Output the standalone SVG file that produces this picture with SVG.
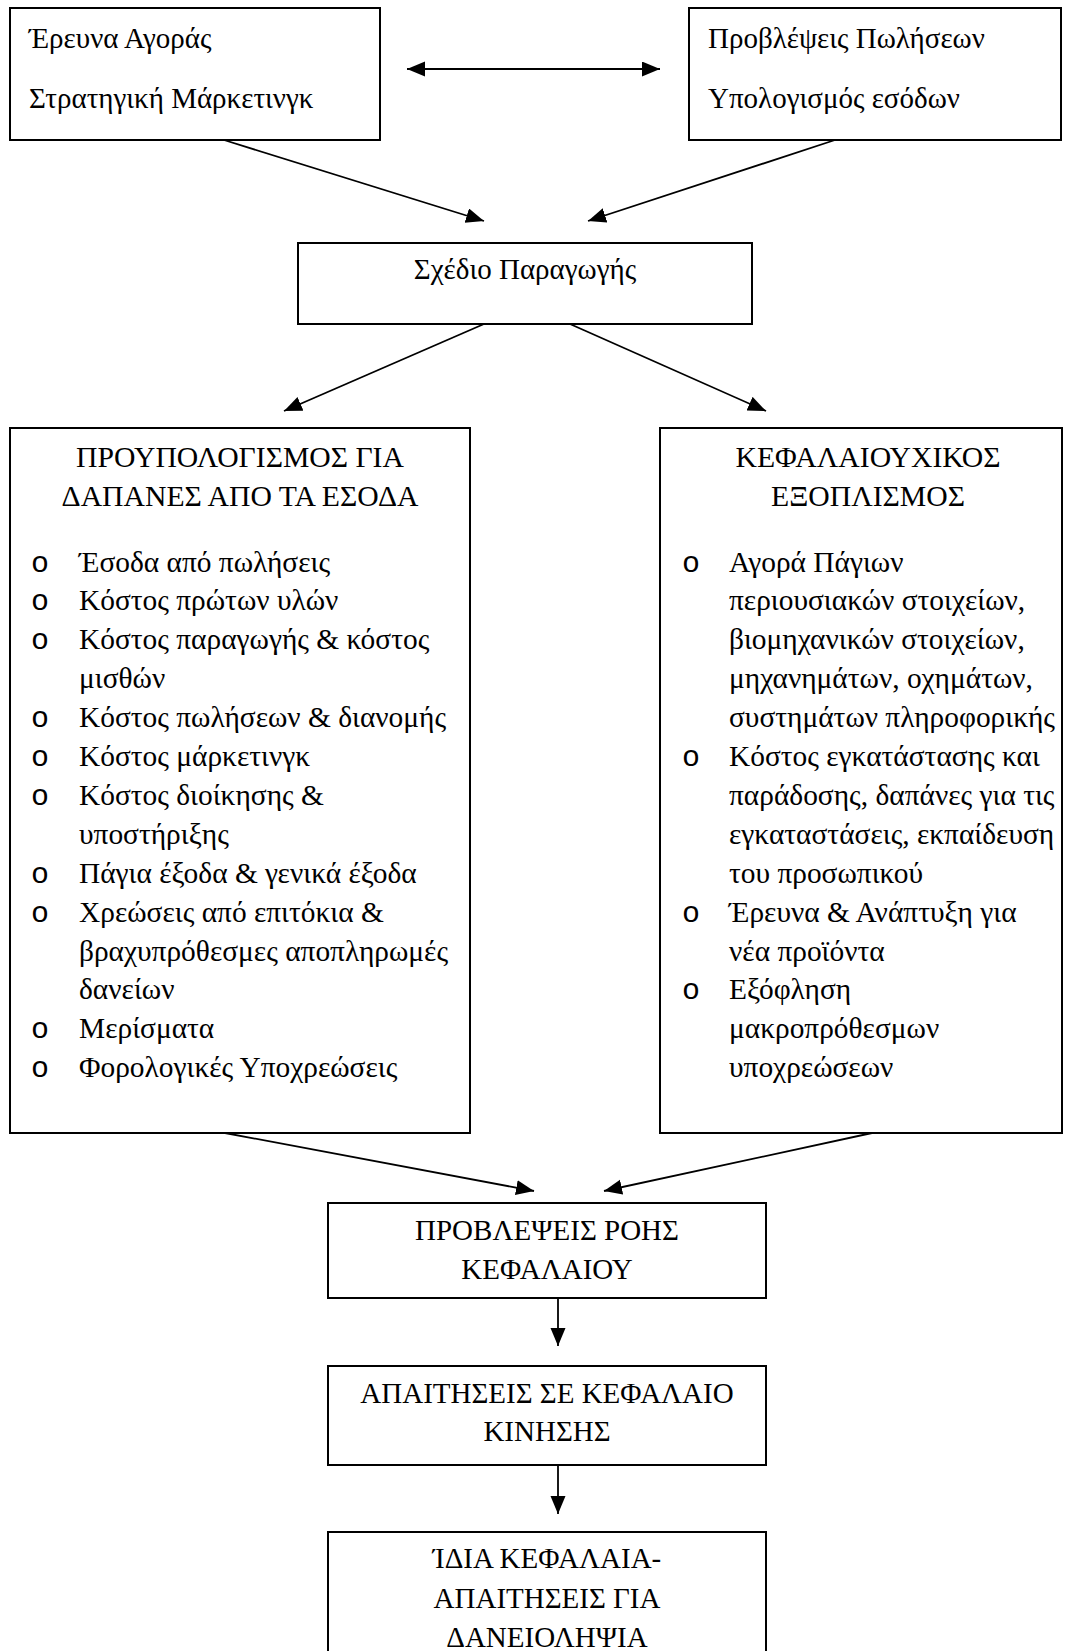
<svg xmlns="http://www.w3.org/2000/svg" width="1067" height="1651" viewBox="0 0 1067 1651">
<defs>
<marker id="ah" markerUnits="userSpaceOnUse" markerWidth="20" markerHeight="16" refX="18" refY="7.5" orient="auto-start-reverse">
<path d="M0,0 L18,7.5 L0,15 z" fill="#000"/>
</marker>
<style>
.box{fill:#fff;stroke:#000;stroke-width:2}
.t{font-family:"Liberation Serif","Times New Roman",serif;fill:#000}
.s24{font-size:29px}
.h{font-size:29.7px}
.s28{font-size:29.4px}
.s29{font-size:29px}
.b{font-family:"Liberation Mono","Courier New",monospace;font-size:30px;fill:#000}
.c{text-anchor:middle}
.ln{stroke:#000;stroke-width:1.8;fill:none;marker-end:url(#ah)}
</style>
</defs>
<rect width="1067" height="1651" fill="#fff"/>
<g id="connectors">
<line class="ln" x1="407" y1="69" x2="660" y2="69" style="marker-start:url(#ah)"/>
<line class="ln" x1="224" y1="140" x2="484" y2="221"/>
<line class="ln" x1="835" y1="140" x2="588" y2="221"/>
<line class="ln" x1="484" y1="324" x2="284" y2="411"/>
<line class="ln" x1="570" y1="324" x2="766" y2="411"/>
<line class="ln" x1="225" y1="1133" x2="534" y2="1191"/>
<line class="ln" x1="872" y1="1133" x2="604" y2="1191"/>
<line class="ln" x1="558" y1="1298" x2="558" y2="1346"/>
<line class="ln" x1="558" y1="1465" x2="558" y2="1514"/>
</g>
<g id="n1">
<rect class="box" x="10" y="8" width="370" height="132"/>
<text class="t s24" x="29" y="48">Έρευνα Αγοράς</text>
<text class="t s24" x="29" y="108">Στρατηγική Μάρκετινγκ</text>
</g>
<g id="n2">
<rect class="box" x="689" y="8" width="372" height="132"/>
<text class="t s24" x="708" y="48">Προβλέψεις Πωλήσεων</text>
<text class="t s24" x="708" y="108">Υπολογισμός εσόδων</text>
</g>
<g id="n3">
<rect class="box" x="298" y="243" width="454" height="81"/>
<text class="t s24 c" x="525" y="279">Σχέδιο Παραγωγής</text>
</g>
<g id="n4">
<rect class="box" x="10" y="428" width="460" height="705"/>
<text class="t h c" x="240" y="467">ΠΡΟΥΠΟΛΟΓΙΣΜΟΣ ΓΙΑ</text>
<text class="t h c" x="240" y="506">ΔΑΠΑΝΕΣ ΑΠΟ ΤΑ ΕΣΟΔΑ</text>
<text class="b" x="31" y="571.5">o</text>
<text class="b" x="31" y="610.4">o</text>
<text class="b" x="31" y="649.3">o</text>
<text class="b" x="31" y="727.1">o</text>
<text class="b" x="31" y="766">o</text>
<text class="b" x="31" y="804.9">o</text>
<text class="b" x="31" y="882.7">o</text>
<text class="b" x="31" y="921.6">o</text>
<text class="b" x="31" y="1038.3">o</text>
<text class="b" x="31" y="1077.2">o</text>
<text class="t s28" x="79" y="571.5">Έσοδα από πωλήσεις</text>
<text class="t s28" x="79" y="610.4">Κόστος πρώτων υλών</text>
<text class="t s28" x="79" y="649.3">Κόστος παραγωγής &amp; κόστος</text>
<text class="t s28" x="79" y="688.2">μισθών</text>
<text class="t s28" x="79" y="727.1">Κόστος πωλήσεων &amp; διανομής</text>
<text class="t s28" x="79" y="766">Κόστος μάρκετινγκ</text>
<text class="t s28" x="79" y="804.9">Κόστος διοίκησης &amp;</text>
<text class="t s28" x="79" y="843.8">υποστήριξης</text>
<text class="t s28" x="79" y="882.7">Πάγια έξοδα &amp; γενικά έξοδα</text>
<text class="t s28" x="79" y="921.6">Χρεώσεις από επιτόκια &amp;</text>
<text class="t s28" x="79" y="960.5">βραχυπρόθεσμες αποπληρωμές</text>
<text class="t s28" x="79" y="999.4">δανείων</text>
<text class="t s28" x="79" y="1038.3">Μερίσματα</text>
<text class="t s28" x="79" y="1077.2">Φορολογικές Υποχρεώσεις</text>
</g>
<g id="n5">
<rect class="box" x="660" y="428" width="402" height="705"/>
<text class="t h c" x="868" y="467">ΚΕΦΑΛΑΙΟΥΧΙΚΟΣ</text>
<text class="t h c" x="868" y="506">ΕΞΟΠΛΙΣΜΟΣ</text>
<text class="b" x="682" y="571.5">o</text>
<text class="b" x="682" y="766">o</text>
<text class="b" x="682" y="921.6">o</text>
<text class="b" x="682" y="999.4">o</text>
<text class="t s28" x="729" y="571.5">Αγορά Πάγιων</text>
<text class="t s28" x="729" y="610.4">περιουσιακών στοιχείων,</text>
<text class="t s28" x="729" y="649.3">βιομηχανικών στοιχείων,</text>
<text class="t s28" x="729" y="688.2">μηχανημάτων, οχημάτων,</text>
<text class="t s28" x="729" y="727.1">συστημάτων πληροφορικής</text>
<text class="t s28" x="729" y="766">Κόστος εγκατάστασης και</text>
<text class="t s28" x="729" y="804.9">παράδοσης, δαπάνες για τις</text>
<text class="t s28" x="729" y="843.8">εγκαταστάσεις, εκπαίδευση</text>
<text class="t s28" x="729" y="882.7">του προσωπικού</text>
<text class="t s28" x="729" y="921.6">Έρευνα &amp; Ανάπτυξη για</text>
<text class="t s28" x="729" y="960.5">νέα προϊόντα</text>
<text class="t s28" x="729" y="999.4">Εξόφληση</text>
<text class="t s28" x="729" y="1038.3">μακροπρόθεσμων</text>
<text class="t s28" x="729" y="1077.2">υποχρεώσεων</text>
</g>
<g id="n6">
<rect class="box" x="328" y="1203" width="438" height="95"/>
<text class="t s29 c" x="547" y="1240">ΠΡΟΒΛΕΨΕΙΣ ΡΟΗΣ</text>
<text class="t s29 c" x="547" y="1279">ΚΕΦΑΛΑΙΟΥ</text>
</g>
<g id="n7">
<rect class="box" x="328" y="1366" width="438" height="99"/>
<text class="t s29 c" x="547" y="1403">ΑΠΑΙΤΗΣΕΙΣ ΣΕ ΚΕΦΑΛΑΙΟ</text>
<text class="t s29 c" x="547" y="1441">ΚΙΝΗΣΗΣ</text>
</g>
<g id="n8">
<rect class="box" x="328" y="1532" width="438" height="140"/>
<text class="t s29 c" x="547" y="1568">ΊΔΙΑ ΚΕΦΑΛΑΙΑ-</text>
<text class="t s29 c" x="547" y="1608">ΑΠΑΙΤΗΣΕΙΣ ΓΙΑ</text>
<text class="t s29 c" x="547" y="1647">ΔΑΝΕΙΟΛΗΨΙΑ</text>
</g>
</svg>
